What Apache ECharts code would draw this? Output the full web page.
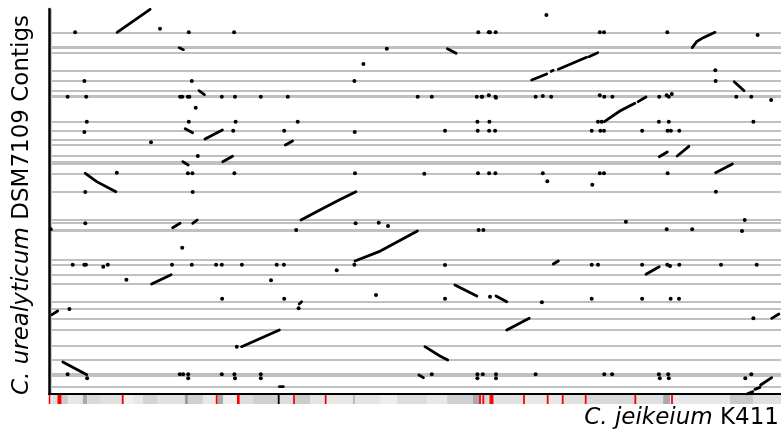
<!DOCTYPE html>
<html><head><meta charset="utf-8">
<script src="https://cdn.jsdelivr.net/npm/echarts@6/dist/echarts.min.js"></script>
<style>html,body{margin:0;padding:0;background:#fff}#c{width:781px;height:432px}</style>
</head><body><div id="c"></div>
<script>
// Axis ranges (kb)
const refLengthKb = 2440;   // C. jeikeium K411 axis
const qryLengthKb = 2310;   // C. urealyticum contig axis

// Contig boundaries on query axis (kb) and their line weights
const contigBoundaries = [2170,2078,2050,1942,1878,1820,1784,1634,1578,1528,1494,1428,1394,1380,1324,1214,1044,1029,984,804,778,718,660,554,514,454,384,290,208,124,108,44];
const thickBoundaries = [2078,1784,984];
const refBoundaries = [6];

// Alignment segments (polylines, [refKb, qryKb])
const segments = [
  [[227,2170],[337,2308]],
  [[434,2078],[448,2066]],
  [[500,1820],[518,1796]],
  [[454,1592],[479,1568]],
  [[520,1530],[578,1584]],
  [[446,1394],[464,1374]],
  [[579,1394],[612,1426]],
  [[121,1324],[159,1274],[223,1214]],
  [[412,998],[437,1024]],
  [[479,1024],[494,1044]],
  [[342,660],[407,716]],
  [[10,476],[29,498]],
  [[46,192],[126,116]],
  [[788,1494],[812,1518]],
  [[840,1044],[903,1104],[967,1164],[1023,1214]],
  [[1020,798],[1100,854],[1228,978]],
  [[642,284],[768,384]],
  [[1253,284],[1303,228],[1329,204]],
  [[1233,114],[1248,98]],
  [[1328,2072],[1357,2044]],
  [[1609,1884],[1659,1920]],
  [[1674,1936],[1681,1942]],
  [[1698,1948],[1792,2020]],
  [[1800,2024],[1829,2048]],
  [[1851,1634],[1903,1698],[1953,1744]],
  [[1964,1754],[1990,1782]],
  [[1681,780],[1698,798]],
  [[1353,654],[1426,588]],
  [[1490,588],[1526,554]],
  [[1526,384],[1601,454]],
  [[2144,2078],[2159,2114],[2181,2138],[2220,2170]],
  [[2284,1874],[2317,1820]],
  [[2034,1424],[2061,1452]],
  [[2094,1428],[2133,1486]],
  [[2222,1328],[2278,1380]],
  [[1990,718],[2034,764]],
  [[2409,454],[2433,480]],
  [[2326,0],[2346,14]],
  [[2353,28],[2370,40]],
  [[2372,54],[2409,98]],
  [[768,44],[781,44]],
  [[834,540],[842,554]]
];

// Isolated hits [refKb, qryKb]
const hits = [
  [87,2170],[466,2170],[617,2170],[1431,2170],[1466,2170],[1470,2170],[1489,2170],[1836,2170],[1850,2170],[2061,2170],
  [370,2192],[1658,2274],[2362,2154],[1126,2072],[1048,1980],
  [118,1878],[476,1878],[1018,1878],[2222,1878],[2221,1942],
  [62,1784],[124,1784],[437,1784],[444,1784],[463,1784],[468,1784],[576,1784],[620,1784],[706,1784],[796,1784],
  [1229,1784],[1276,1784],[1426,1784],[1442,1784],[1444,1784],[1466,1792],[1488,1784],[1490,1778],[1622,1784],
  [1646,1788],[1674,1784],[1836,1792],[1851,1784],[1878,1784],[2034,1784],[2059,1792],[2066,1784],[2076,1800],
  [2291,1784],[2341,1784],[2407,1764],
  [489,1718],
  [126,1634],[466,1634],[622,1634],[829,1634],[1428,1634],[1468,1634],[1830,1634],[1842,1634],[2033,1634],[2066,1634],[2348,1634],
  [118,1572],[614,1580],[784,1580],[1019,1572],[1320,1580],[1429,1580],[1467,1580],[1487,1580],[1809,1580],[1838,1580],[1850,1580],
  [1977,1580],[2062,1580],[2073,1580],[2101,1580],
  [340,1510],[496,1428],
  [226,1328],[463,1324],[478,1324],[618,1324],[1020,1324],[1251,1322],[1430,1324],[1467,1324],[1488,1324],[1646,1324],
  [1836,1324],[1850,1324],[2062,1324],
  [1661,1276],[1811,1256],
  [121,1212],[479,1212],[2223,1214],
  [121,1024],[1022,1024],[1099,1028],[1130,1008],[1923,1034],[2319,1044],
  [6,988],[824,984],[1432,984],[1448,984],[2059,988],[2144,988],[2310,978],
  [444,878],
  [79,776],[118,776],[123,776],[181,764],[196,776],[410,776],[476,776],[557,776],[576,776],[643,776],[759,776],[783,776],
  [1018,776],[1320,774],[1809,776],[1830,776],[1977,776],[2061,776],[2070,768],[2101,776],[2240,776],[2359,776],
  [959,742],[258,686],[740,682],
  [577,572],[784,572],[1320,572],[1809,572],[1977,572],[2072,572],[2100,572],[1470,584],[1643,550],[1090,594],
  [832,514],[68,510],[2348,454],[626,284],
  [62,118],[436,118],[447,118],[464,118],[576,118],[618,118],[706,118],[1276,118],[1428,118],[1446,118],[1490,118],
  [1622,118],[1851,118],[1877,118],[2033,118],[2064,118],[2341,118],
  [127,94],[464,94],[620,94],[706,94],[1428,94],[1490,94],[2036,94],[2066,94],[2321,94]
];

// Coverage strip along the reference (start kb, grey level)
const stripStart = [0,13,43,63,113,127,170,250,280,313,360,453,463,513,563,580,637,680,767,820,870,927,1013,1020,1103,1160,1260,1327,1413,1437,1480,1587,1713,1793,1960,2047,2070,2270,2347];
const stripGrey  = [230,221,204,230,170,216,224,240,232,212,224,153,208,232,170,238,221,208,221,204,228,232,187,228,238,221,232,208,170,216,224,232,224,216,224,170,232,200,224];
// Marked positions on the reference (kb) with widths (kb)
const redMarks = [1.7,35,245.7,559,631,816.7,922.3,1436.7,1447.7,1475,1583.3,1662.3,1712.3,1789,1954.3,2076.7];
const redWidths = [5,13,6,6,9,6,6,6,6,13,6,6,6,6,6,6];
const blackMarks = [765.7];

const stripData = stripStart.map((s,i)=>[s, i+1<stripStart.length?stripStart[i+1]:refLengthKb, stripGrey[i], 'g']);
redMarks.forEach((m,i)=>stripData.push([m-redWidths[i]/2, m+redWidths[i]/2, 0, 'r']));
blackMarks.forEach(m=>stripData.push([m-3, m+3, 0, 'k']));

const chart = echarts.init(document.getElementById('c'), null, {renderer:'canvas'});
const FONT = 'DejaVu Sans';
chart.setOption({
  animation:false,
  backgroundColor:'#fff',
  grid:[
    {left:49, right:0, top:9, height:385, containLabel:false},
    {left:49, right:0, top:395, height:9, containLabel:false}
  ],
  xAxis:[
    {gridIndex:0, type:'value', min:0, max:refLengthKb, z:20, axisLine:{show:true, onZero:false, lineStyle:{color:'#000', width:2}},
     axisTick:{show:false}, axisLabel:{show:false}, splitLine:{show:false}},
    {gridIndex:1, type:'value', min:0, max:refLengthKb, show:false}
  ],
  yAxis:[
    {gridIndex:0, type:'value', min:0, max:qryLengthKb, z:20, axisLine:{show:true, onZero:false, lineStyle:{color:'#000', width:2.5}},
     axisTick:{show:false}, axisLabel:{show:false}, splitLine:{show:false}},
    {gridIndex:1, type:'value', min:0, max:1, show:false}
  ],
  series:[
    {type:'scatter', xAxisIndex:0, yAxisIndex:0, data:[], silent:true, z:1,
     markLine:{silent:true, z:1, symbol:['none','none'], label:{show:false}, animation:false,
       data: contigBoundaries.map(v=>({yAxis:v, lineStyle:{color:'#c0c0c0', type:'solid', width: thickBoundaries.includes(v)?3:2}}))
         .concat(refBoundaries.map(v=>({xAxis:v, lineStyle:{color:'#c8c8c8', type:'solid', width:2}})))
     }},
    {type:'lines', coordinateSystem:'cartesian2d', xAxisIndex:0, yAxisIndex:0, polyline:true, silent:true, z:8,
     lineStyle:{color:'#000', width:2.8, opacity:1, cap:'round'},
     data: segments.map(s=>({coords:s}))},
    {type:'scatter', xAxisIndex:0, yAxisIndex:0, symbol:'circle', symbolSize:4, silent:true, z:9,
     itemStyle:{color:'#000', opacity:1}, data:hits},
    {type:'custom', xAxisIndex:1, yAxisIndex:1, silent:true, data:stripData,
     renderItem:function(params, api){
       const p0 = api.coord([api.value(0), 1]);
       const p1 = api.coord([api.value(1), 0]);
       const kind = stripData[params.dataIndex][3];
       const g = api.value(2);
       const col = kind==='r' ? '#ff0000' : kind==='k' ? '#000' : 'rgb('+g+','+g+','+g+')';
       return {type:'rect', shape:{x:p0[0], y:p0[1], width:Math.max(1.5,p1[0]-p0[0]), height:p1[1]-p0[1]}, style:{fill:col}, z2: kind==='g'?0:1};
     }}
  ],
  graphic:[
    {type:'text', x:22, y:205, rotation:Math.PI/2,
     style:{text:'{i|C. urealyticum} DSM7109 Contigs', fill:'#000', font:'23px "DejaVu Sans"', align:'center', verticalAlign:'middle',
       rich:{i:{fontStyle:'italic', fontFamily:FONT, fontSize:23, fill:'#000'}}}},
    {type:'text', x:779, y:418,
     style:{text:'{i|C. jeikeium} K411', fill:'#000', font:'23px "DejaVu Sans"', align:'right', verticalAlign:'middle',
       rich:{i:{fontStyle:'italic', fontFamily:FONT, fontSize:23, fill:'#000'}}}}
  ]
});
</script></body></html>
